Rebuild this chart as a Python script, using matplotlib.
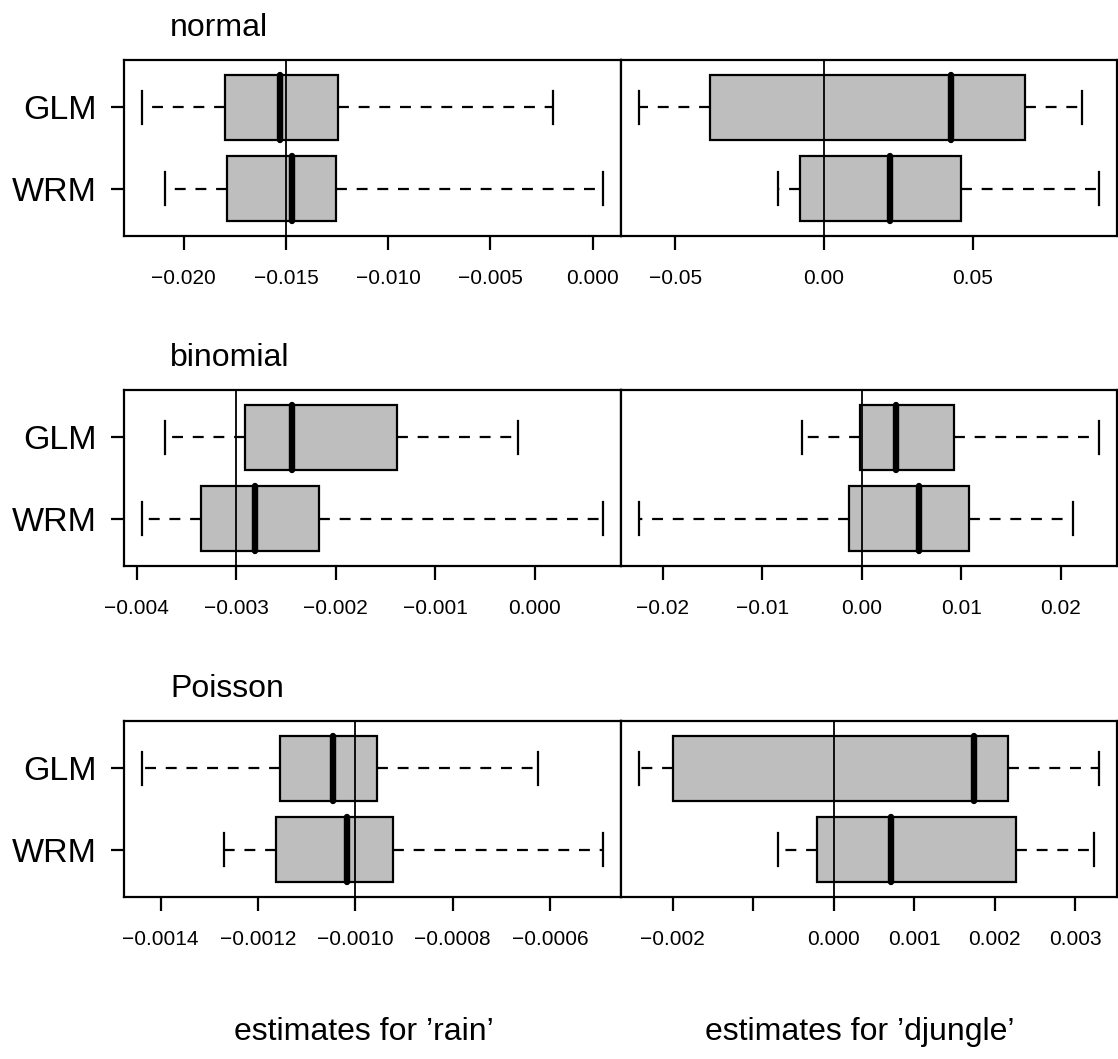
import matplotlib
matplotlib.use("Agg")
import matplotlib.pyplot as plt

plt.rcParams['font.family'] = ['Liberation Sans', 'DejaVu Sans']

# ---------------- data ----------------
families = ["normal", "binomial", "Poisson"]
methods = ["GLM", "WRM"]
true_rain = [-0.015, -0.003, -0.001]
true_djungle = [0.0, 0.0, 0.0]

# five-number summaries: min, q1, median, q3, max
rain_normal_glm = [-0.02202, -0.01797, -0.01530, -0.01243, -0.00193]
rain_normal_wrm = [-0.02091, -0.01788, -0.01468, -0.01254, 0.00049]
rain_binomial_glm = [-0.003720, -0.002909, -0.002440, -0.001382, -0.000169]
rain_binomial_wrm = [-0.003944, -0.003357, -0.002810, -0.002170, 0.000684]
rain_poisson_glm = [-0.0014372, -0.0011540, -0.0010460, -0.0009557, -0.0006248]
rain_poisson_wrm = [-0.0012704, -0.0011622, -0.0010179, -0.0009220, -0.0004922]

djungle_normal_glm = [-0.0620, -0.0383, 0.0428, 0.0676, 0.0869]
djungle_normal_wrm = [-0.0154, -0.0081, 0.0224, 0.0460, 0.0924]
djungle_binomial_glm = [-0.00602, -0.00016, 0.00348, 0.00931, 0.02383]
djungle_binomial_wrm = [-0.02235, -0.00123, 0.00573, 0.01082, 0.02126]
djungle_poisson_glm = [-0.002413, -0.001991, 0.001747, 0.002169, 0.003292]
djungle_poisson_wrm = [-0.000686, -0.000207, 0.000715, 0.002268, 0.003234]

ticks_rain = [[-0.020, -0.015, -0.010, -0.005, 0.000],
              [-0.004, -0.003, -0.002, -0.001, 0.000],
              [-0.0014, -0.0012, -0.0010, -0.0008, -0.0006]]
ticklabels_rain = [["\u22120.020", "\u22120.015", "\u22120.010", "\u22120.005", "0.000"],
                   ["\u22120.004", "\u22120.003", "\u22120.002", "\u22120.001", "0.000"],
                   ["\u22120.0014", "\u22120.0012", "\u22120.0010", "\u22120.0008", "\u22120.0006"]]
ticks_djungle = [[-0.05, 0.00, 0.05],
                 [-0.02, -0.01, 0.00, 0.01, 0.02],
                 [-0.002, -0.001, 0.000, 0.001, 0.002, 0.003]]
ticklabels_djungle = [["\u22120.05", "0.00", "0.05"],
                      ["\u22120.02", "\u22120.01", "0.00", "0.01", "0.02"],
                      ["\u22120.002", "", "0.000", "0.001", "0.002", "0.003"]]

rain_stats = [(rain_normal_glm, rain_normal_wrm),
              (rain_binomial_glm, rain_binomial_wrm),
              (rain_poisson_glm, rain_poisson_wrm)]
djungle_stats = [(djungle_normal_glm, djungle_normal_wrm),
                 (djungle_binomial_glm, djungle_binomial_wrm),
                 (djungle_poisson_glm, djungle_poisson_wrm)]

xlabels = ["estimates for \u2019rain\u2019", "estimates for \u2019djungle\u2019"]

# ---------------- layout ----------------
W, H = 1118, 1059
fig = plt.figure(figsize=(W / 100, H / 100), dpi=100)

ax_left_px = [124, 621]
ax_width_px = [497, 496]
row_top_px = [60, 390, 721]
row_h_px = 176

LW = 1.6
GRAY = "#BEBEBE"


def make_stats(vals, label):
    return dict(whislo=vals[0], q1=vals[1], med=vals[2], q3=vals[3], whishi=vals[4],
                label=label, fliers=[])


def draw_panel(ax, glm, wrm, truth, ticks, labels, show_y):
    stats = [make_stats(wrm, "WRM"), make_stats(glm, "GLM")]
    ax.bxp(stats, positions=[1, 2], widths=0.8, capwidths=0.4,
           orientation='horizontal', showfliers=False, patch_artist=True,
           boxprops=dict(facecolor=GRAY, edgecolor="black", linewidth=LW),
           whiskerprops=dict(color="black", linewidth=LW, linestyle=(0, (4.9, 4.4))),
           capprops=dict(color="black", linewidth=LW),
           medianprops=dict(color="black", linewidth=4.6, solid_capstyle="round"))
    ax.axvline(truth, color="black", linewidth=1.3, zorder=5)
    allv = glm + wrm
    lo, hi = min(allv), max(allv)
    r = hi - lo
    ax.set_xlim(lo - 0.04 * r, hi + 0.04 * r)
    ax.set_ylim(0.42, 2.58)
    ax.set_xticks(ticks)
    ax.set_xticklabels(labels)
    ax.tick_params(axis="x", length=10, width=LW, pad=14, labelsize=15)
    if show_y:
        ax.set_yticks([1, 2])
        ax.set_yticklabels(["WRM", "GLM"])
        ax.tick_params(axis="y", length=9.5, width=LW, pad=10, labelsize=24.5)
    else:
        ax.set_yticks([])
    for s in ax.spines.values():
        s.set_linewidth(LW)


for i in range(3):
    bottom = 1 - (row_top_px[i] + row_h_px) / H
    h = row_h_px / H
    axl = fig.add_axes([ax_left_px[0] / W, bottom, ax_width_px[0] / W, h])
    axr = fig.add_axes([ax_left_px[1] / W, bottom, ax_width_px[1] / W, h])
    draw_panel(axl, list(rain_stats[i][0]), list(rain_stats[i][1]), true_rain[i],
               ticks_rain[i], ticklabels_rain[i], True)
    draw_panel(axr, list(djungle_stats[i][0]), list(djungle_stats[i][1]), true_djungle[i],
               ticks_djungle[i], ticklabels_djungle[i], False)
    fig.text(170 / W, 1 - (row_top_px[i] - 24) / H, families[i], fontsize=23,
             ha="left", va="baseline")

fig.text(364 / W, 1 - 1040 / H, xlabels[0], fontsize=23, ha="center", va="baseline")
fig.text(860 / W, 1 - 1040 / H, xlabels[1], fontsize=23, ha="center", va="baseline")

fig.savefig("out.png", dpi=100)
